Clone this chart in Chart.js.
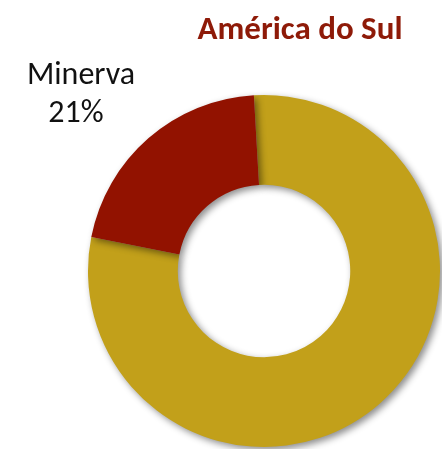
<!DOCTYPE html>
<html>
<head>
<meta charset="utf-8">
<script src="https://cdn.jsdelivr.net/npm/chart.js@4/dist/chart.umd.min.js"></script>
<style>
  html, body { margin: 0; padding: 0; background: #fff; }
  #wrap { width: 442px; height: 449px; position: relative; }
</style>
</head>
<body>
<div id="wrap"><canvas id="chart" width="442" height="449"></canvas></div>
<script>
const categories = ["Outros", "Minerva"];
const shares = [79, 21];
const sliceColors = ["#C2A01A", "#921200"];
const chartTitle = "América do Sul";

// grey drop shadow behind the ring
const shadowPlugin = {
  id: "ringShadow",
  beforeDatasetsDraw(chart) {
    const ctx = chart.ctx;
    ctx.save();
    ctx.shadowColor = "rgba(0,0,0,0.45)";
    ctx.shadowBlur = 7;
    ctx.shadowOffsetX = 3;
    ctx.shadowOffsetY = 3;
  },
  afterDatasetsDraw(chart) {
    chart.ctx.restore();
  },
};

// title and the single outside label
const textPlugin = {
  id: "texts",
  afterDraw(chart) {
    const ctx = chart.ctx;
    ctx.save();
    ctx.fillStyle = "#8E1A08";
    ctx.font = "bold 33px Carlito, 'Open Sans', 'DejaVu Sans', sans-serif";
    ctx.textAlign = "center";
    ctx.textBaseline = "alphabetic";
    ctx.fillText(chartTitle, 300, 39);

    const idx = categories.indexOf("Minerva");
    ctx.fillStyle = "#111";
    ctx.font = "32px Carlito, 'Open Sans', 'DejaVu Sans', sans-serif";
    ctx.fillText(categories[idx], 81, 84);
    ctx.fillText(shares[idx] + "%", 76, 122);
    ctx.restore();
  },
};

new Chart(document.getElementById("chart").getContext("2d"), {
  type: "doughnut",
  data: {
    labels: categories,
    datasets: [{
      data: shares,
      backgroundColor: sliceColors,
      borderWidth: 0,
    }],
  },
  options: {
    responsive: false,
    animation: false,
    rotation: -3.3,
    cutout: "49%",
    layout: { padding: { left: 88, right: 2, top: 95, bottom: 2 } },
    plugins: {
      legend: { display: false },
      tooltip: { enabled: false },
    },
  },
  plugins: [shadowPlugin, textPlugin],
});
</script>
</body>
</html>
